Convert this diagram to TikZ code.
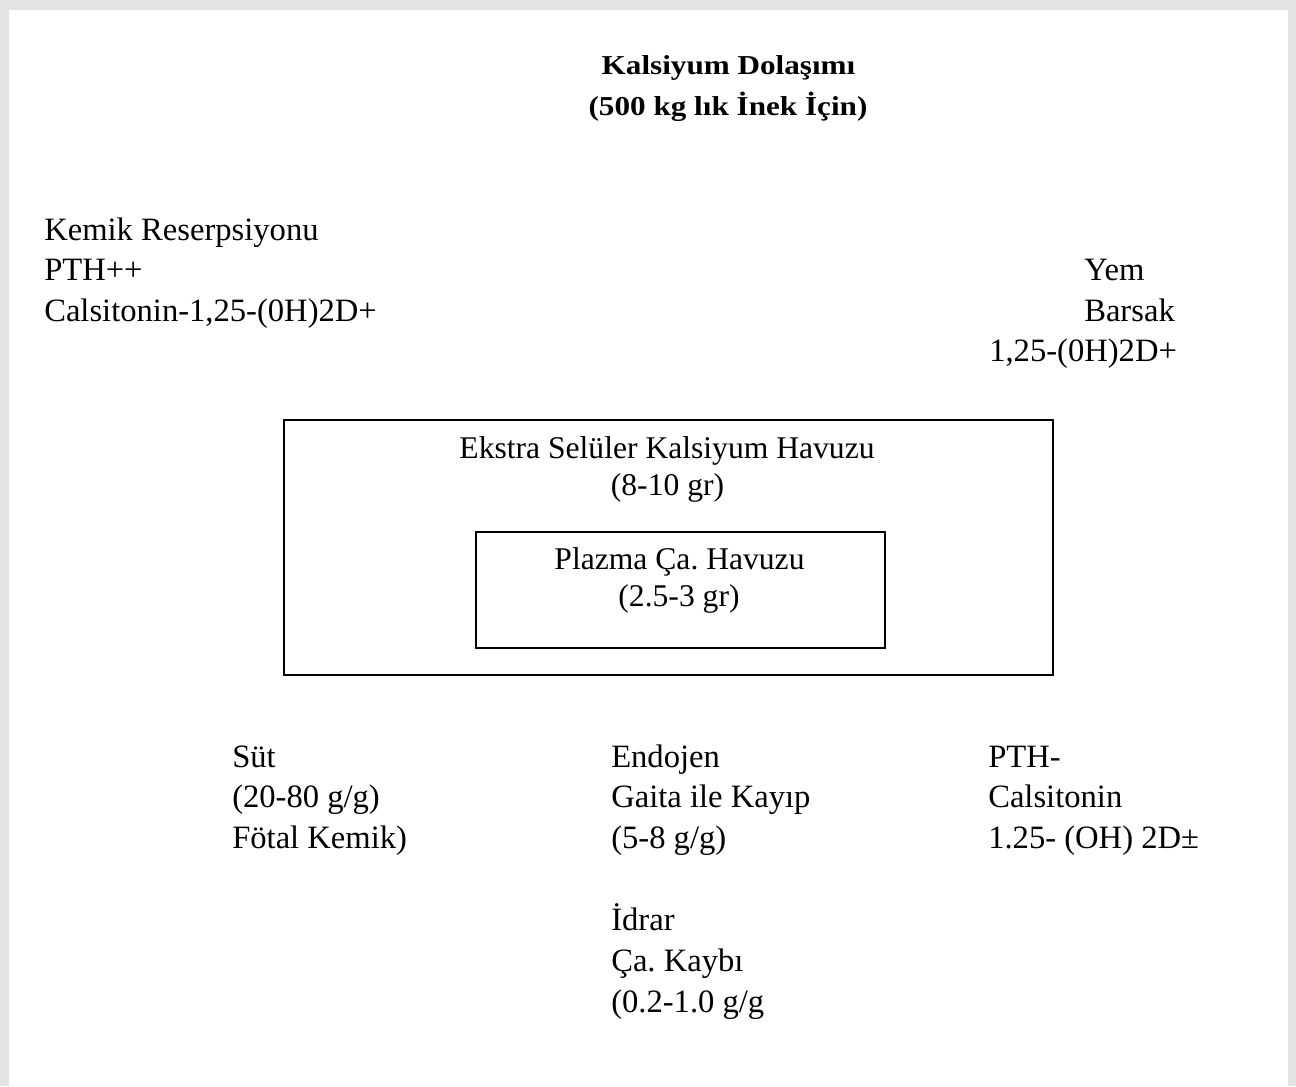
\documentclass[tikz,border=0pt]{standalone}
\usepackage{fontspec}
\setmainfont{Liberation Serif}
\frenchspacing
\begin{document}
\begin{tikzpicture}[x=0.75pt, y=-0.75pt,
        txt/.style={anchor=base west, inner sep=0pt, font=\fontsize{24.45}{30}\selectfont},
        mid/.style={anchor=base, inner sep=0pt, font=\fontsize{23.7}{30}\selectfont},
        ttl/.style={anchor=base, inner sep=0pt, font=\fontsize{20.5}{24}\selectfont\bfseries},
        pool/.style={draw=black, line width=1pt}]

            % page and its shadow
            \fill[gray!22] (0,0) rectangle (1296,1086);
            \fill[white] (9,10) rectangle (1288,1086);
            \useasboundingbox (0,0) rectangle (1296,1086);

            % title
            \node[ttl] (title1) at (728.5,74) {\scalebox{1.14}[1]{Kalsiyum Dolaşımı}};
            \node[ttl] (title2) at (728,115) {\scalebox{1.14}[1]{(500 kg lık İnek İçin)}};

            % top left
            \node[txt] (kemik) at (44,240) {Kemik Reserpsiyonu};
            \node[txt] (pthpp) at (44,280.5) {PTH++};
            \node[txt] (calsi) at (44,321) {Calsitonin-1,25-(0H)2D+};

            % top right
            \node[txt] (yem) at (1084,280.5) {Yem};
            \node[txt] (barsak) at (1084,321) {Barsak};
            \node[txt] (vitd) at (989,361.5) {1,25-(0H)2D+};

            % pools
            \draw[pool] (284,420) rectangle (1053,675);
            \draw[pool] (476,532) rectangle (885,648);

            \node[mid] (ekstra) at (667,458) {Ekstra Selüler Kalsiyum Havuzu};
            \node[mid] (ekstragr) at (667.5,495) {(8-10 gr)};
            \node[mid] (plazma) at (679.5,569.5) {Plazma Ça. Havuzu};
            \node[mid] (plazmagr) at (679,606) {(2.5-3 gr)};

            % bottom left
            \node[txt] (sut) at (232,767) {Süt};
            \node[txt] (sutgr) at (232,807.5) {(20-80 g/g)};
            \node[txt] (fotal) at (232,848) {Fötal Kemik)};

            % bottom middle
            \node[txt] (endojen) at (611,767) {Endojen};
            \node[txt] (gaita) at (611,807.5) {Gaita ile Kayıp};
            \node[txt] (gaitagr) at (611,848) {(5-8 g/g)};

            \node[txt] (idrar) at (611,930.5) {İdrar};
            \node[txt] (kaybi) at (611,971.5) {Ça. Kaybı};
            \node[txt] (idrargr) at (611,1012.5) {(0.2-1.0 g/g};

            % bottom right
            \node[txt] (pthm) at (988,767) {PTH-};
            \node[txt] (calsb) at (988,807.5) {Calsitonin};
            \node[txt] (vitdb) at (988,848) {1.25- (OH) 2D±};

        \end{tikzpicture}
\end{document}
